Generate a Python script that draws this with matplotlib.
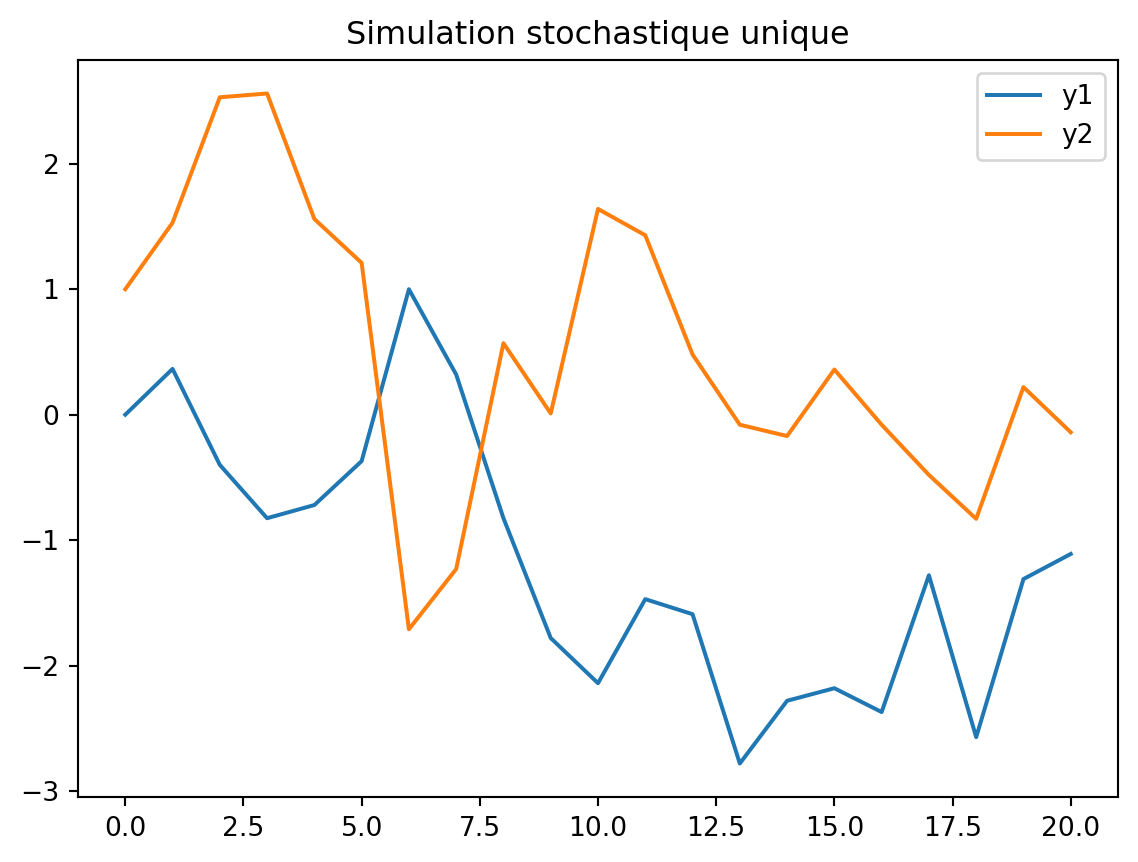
import numpy as np
import matplotlib
matplotlib.use("Agg")
import matplotlib.pyplot as plt

t = np.arange(21)
y1 = [0.0, 0.365, -0.40, -0.825, -0.72, -0.37, 1.0, 0.32, -0.825, -1.78, -2.14,
      -1.47, -1.59, -2.78, -2.28, -2.18, -2.37, -1.28, -2.57, -1.31, -1.11]
y2 = [1.0, 1.53, 2.53, 2.56, 1.56, 1.21, -1.71, -1.23, 0.57, 0.01, 1.64,
      1.43, 0.48, -0.08, -0.17, 0.36, -0.08, -0.48, -0.83, 0.22, -0.14]

dpi = 191
fig, ax = plt.subplots(figsize=(1138 / dpi, 862 / dpi), dpi=dpi)
ax.plot(t, y1, label="y1")
ax.plot(t, y2, label="y2")
ax.set_title("Simulation stochastique unique")
ax.legend()
fig.subplots_adjust(left=78 / 1138, right=1118 / 1138, top=1 - 60 / 862, bottom=1 - 797 / 862)
fig.savefig("out.png", dpi=dpi)
